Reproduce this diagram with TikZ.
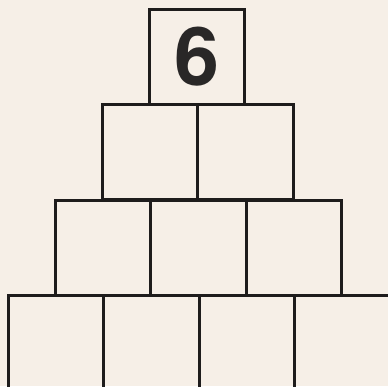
\documentclass[tikz,border=0pt]{standalone}
\usepackage{fontspec}
\newfontfamily\digitfont{TeX Gyre Heros}
\usepackage{tikz}
\definecolor{PaperTone}{RGB}{246, 239, 231}
\definecolor{InkGray}{RGB}{30, 28, 28}

\tikzset{
  cell/.style={draw=InkGray, line width=1.5pt, minimum size=1.91cm, inner sep=0pt},
  bignum/.style={font=\digitfont\bfseries\fontsize{46}{46}\selectfont, text=InkGray!95}
}

\begin{document}
\begin{tikzpicture}[x=0.02cm, y=-0.02cm]
      % Paper
      \useasboundingbox (0,0) rectangle (388,386);
      \fill[PaperTone] (0,0) rectangle (388,386);

      \begin{scope}
      \clip (0,0) rectangle (388,386);
      % Top block
      \node[cell] (top) at (197,57) {};
      \node[bignum] (six) at (top.center) {6};

      % Rows below
      \foreach \x/\y/\n in {150/152/r2a, 245.5/152/r2b,
                            103/248/r3a, 198.5/248/r3b, 294/248/r3c,
                            56/343/r4a, 151.5/343/r4b, 247/343/r4c, 342.5/343/r4d} {
        \node[cell] (\n) at (\x,\y) {};
      }
      \end{scope}
    \end{tikzpicture}
\end{document}
